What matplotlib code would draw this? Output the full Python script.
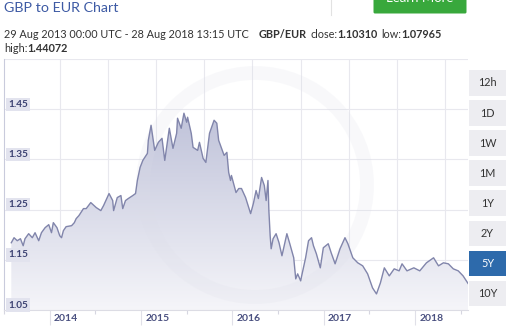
import numpy as np
import matplotlib.pyplot as plt
from matplotlib.patches import Rectangle, FancyBboxPatch, Circle, Polygon
from matplotlib.colors import LinearSegmentedColormap

plt.rcParams['font.family'] = ['Lato', 'DejaVu Sans']

# GBP/EUR (decimal year, rate)
years = [2013.58, 2013.61, 2013.645, 2013.68, 2013.71, 2013.73, 2013.77, 2013.81, 2013.84, 2013.88,
         2013.91, 2013.95, 2013.99, 2014.02, 2014.04, 2014.08, 2014.11, 2014.13, 2014.15, 2014.18,
         2014.24, 2014.27, 2014.29, 2014.32, 2014.37, 2014.40, 2014.45, 2014.51, 2014.56, 2014.59,
         2014.65, 2014.69, 2014.70, 2014.74, 2014.78, 2014.80, 2014.83, 2014.86, 2014.91, 2014.94,
         2014.96, 2014.99, 2015.02, 2015.07, 2015.08, 2015.11, 2015.15, 2015.19, 2015.23, 2015.26,
         2015.31, 2015.35, 2015.39, 2015.40, 2015.44, 2015.47, 2015.50, 2015.51, 2015.55, 2015.57,
         2015.62, 2015.64, 2015.68, 2015.71, 2015.75, 2015.80, 2015.83, 2015.85, 2015.89, 2015.91,
         2015.94, 2015.96, 2015.98, 2015.99, 2016.04, 2016.07, 2016.10, 2016.145, 2016.18, 2016.20,
         2016.23, 2016.26, 2016.285, 2016.32, 2016.35, 2016.37, 2016.39, 2016.40, 2016.414, 2016.425,
         2016.446, 2016.479, 2016.511, 2016.543, 2016.565, 2016.597, 2016.629, 2016.672, 2016.694, 2016.715,
         2016.748, 2016.759, 2016.802, 2016.834, 2016.867, 2016.888, 2016.920, 2016.963, 2016.996, 2017.050,
         2017.082, 2017.125, 2017.179, 2017.233, 2017.265, 2017.319, 2017.373, 2017.427, 2017.481, 2017.535,
         2017.578, 2017.621, 2017.664, 2017.718, 2017.772, 2017.826, 2017.858, 2017.912, 2017.987, 2018.052,
         2018.125, 2018.203, 2018.257, 2018.311, 2018.365, 2018.419, 2018.473, 2018.526, 2018.58]
rates = [1.184, 1.194, 1.188, 1.192, 1.178, 1.192, 1.202, 1.194, 1.204, 1.188,
         1.204, 1.214, 1.220, 1.204, 1.224, 1.214, 1.198, 1.194, 1.208, 1.216,
         1.218, 1.224, 1.232, 1.238, 1.252, 1.252, 1.264, 1.254, 1.248, 1.258,
         1.282, 1.268, 1.248, 1.274, 1.278, 1.252, 1.268, 1.272, 1.278, 1.282,
         1.308, 1.334, 1.348, 1.362, 1.388, 1.418, 1.368, 1.384, 1.392, 1.348,
         1.412, 1.372, 1.402, 1.432, 1.412, 1.442, 1.424, 1.434, 1.402, 1.374,
         1.368, 1.384, 1.352, 1.344, 1.402, 1.428, 1.422, 1.388, 1.368, 1.358,
         1.364, 1.324, 1.308, 1.318, 1.284, 1.292, 1.292, 1.274, 1.254, 1.242,
         1.262, 1.288, 1.272, 1.314, 1.298, 1.268, 1.308, 1.248, 1.198, 1.172,
         1.192, 1.202, 1.184, 1.158, 1.176, 1.202, 1.182, 1.154, 1.112, 1.122,
         1.108, 1.118, 1.154, 1.188, 1.194, 1.178, 1.162, 1.134, 1.174, 1.182,
         1.164, 1.142, 1.172, 1.194, 1.182, 1.154, 1.144, 1.138, 1.122, 1.094,
         1.082, 1.104, 1.134, 1.118, 1.132, 1.128, 1.142, 1.128, 1.134, 1.128,
         1.144, 1.154, 1.138, 1.144, 1.142, 1.132, 1.128, 1.118, 1.103]

y_ticks = [1.05, 1.15, 1.25, 1.35, 1.45]
year_ticks = [2014, 2015, 2016, 2017, 2018]
periods = ['12h', '1D', '1W', '1M', '1Y', '2Y', '5Y', '10Y']
active = '5Y'

W, H = 512, 333
fig = plt.figure(figsize=(W / 100, H / 100), dpi=100)
fig.patch.set_facecolor('white')
ax = fig.add_axes([4 / W, 23 / H, 464 / W, 251 / H])
over = fig.add_axes([0, 0, 1, 1])
over.set_xlim(0, W)
over.set_ylim(H, 0)
over.axis('off')

x0, x1 = years[0], years[-1]

# gradient fill under the line
grad = np.linspace(0, 1, 256).reshape(-1, 1)
cmap = LinearSegmentedColormap.from_list('fill', ['#f5f5f9', '#c0c3da'])
im = ax.imshow(grad, extent=[x0, x1, 1.05, 1.44], origin='lower', cmap=cmap,
               aspect='auto', zorder=1)
verts = [(x0, 1.05)] + list(zip(years, rates)) + [(x1, 1.05)]
poly = Polygon(verts, closed=True, fc='none', ec='none')
ax.add_patch(poly)
im.set_clip_path(poly)

# faint watermark ring
ring = Circle((255, 185), 112, transform=over.transData, fill=False,
              lw=10, ec='#dcdde8', alpha=0.18, zorder=1.5)
ax.add_patch(ring)

ax.plot(years, rates, color='#8185ab', lw=1.0, zorder=3)

ax.set_xlim(2013.58, 2018.58)
ax.set_ylim(1.05, 1.55)

# grid
for v in y_ticks[1:] + [1.55]:
    ax.axhline(v, color='#e8e8ee', lw=0.8, zorder=0)
step = 49 / 92.8
for k in range(1, 10):
    ax.axvline(2013.58 + k * step, color='#e8e8ee', lw=0.8, zorder=0)

for s in ['top', 'right']:
    ax.spines[s].set_visible(False)
ax.spines['left'].set_color('#c9cbdc')
ax.spines['bottom'].set_color('#dcdce4')

ax.set_yticks([])
ax.set_xticks(year_ticks)
ax.set_xticklabels([])
ax.set_xticks([y + 0.5 for y in range(2013, 2018)] + [2018.5], minor=True)
ax.tick_params(axis='x', which='major', length=11, color='#e0e0e8', width=0.8)
ax.tick_params(axis='x', which='minor', length=3, color='#d6d6e0', width=0.8)

for yr in year_ticks:
    ax.annotate(str(yr), xy=(yr, 0), xycoords=('data', 'axes fraction'),
                xytext=(3, -6), textcoords='offset points', ha='left', va='center',
                fontsize=7.5, fontweight='bold', color='#4a5080')

for v in y_ticks:
    ax.annotate(f'{v:.2f}', xy=(0, v), xycoords=('axes fraction', 'data'),
                xytext=(3, 3.6), textcoords='offset points', ha='left', va='center',
                fontsize=7.2, fontweight='bold', color='#3c4272', zorder=5,
                bbox=dict(boxstyle='square,pad=0.22', fc='#e2e3ee', ec='none'))

# header
over.text(4, 8.5, 'GBP to EUR Chart', va='center', ha='left', fontsize=10.3, color='#3d5aa4')
over.plot([331, 331], [0, 15], color='#e2e2e2', lw=0.8)
over.add_patch(FancyBboxPatch((375, -12), 90, 24, boxstyle='round,pad=1.5',
                              fc='#38a83c', ec='none'))
over.text(420, -2, 'Learn More', ha='center', va='center', fontsize=9.5, color='white')


def chain(parts, x, y, size=7.8):
    prev = over.text(x, y, parts[0][0], va='center', ha='left', fontsize=size,
                     color='#333333', fontweight=parts[0][1])
    for text, weight, gap in parts[1:]:
        prev = over.annotate(text, xy=(1, 0), xycoords=prev, xytext=(gap, 0),
                             textcoords='offset points', va='bottom', ha='left',
                             fontsize=size, color='#333333', fontweight=weight)


chain([('29 Aug 2013 00:00 UTC - 28 Aug 2018 13:15 UTC', 'normal', 0),
       ('GBP/EUR', 'bold', 7),
       ('close:', 'normal', 2.5),
       ('1.10310', 'bold', 0),
       ('low:', 'normal', 2.5),
       ('1.07965', 'bold', 0)], 4, 34)
chain([('high:', 'normal', 0), ('1.44072', 'bold', 0)], 4, 49)

# period buttons
for i, p in enumerate(periods):
    top = 70 + i * 30.1
    on = p == active
    over.add_patch(Rectangle((469, top), 37, 25.5, fc='#2d6aab' if on else '#ededf1', ec='none'))
    over.text(487.5, top + 13, p, ha='center', va='center', fontsize=7.8,
              color='white' if on else '#333333')

fig.savefig('out.png', dpi=100)
